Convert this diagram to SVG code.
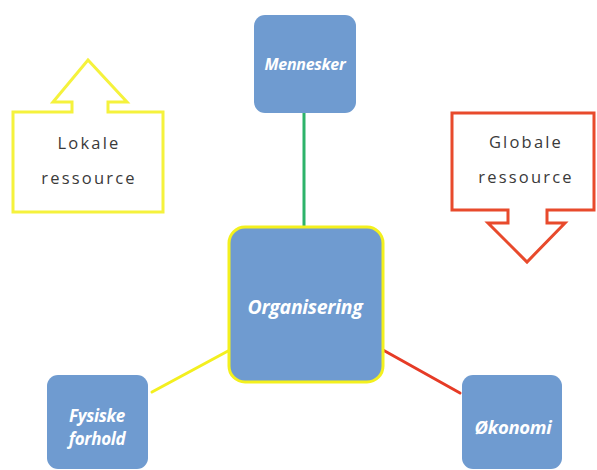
<svg xmlns="http://www.w3.org/2000/svg" width="597" height="470" viewBox="0 0 597 470">
<style>
.box{fill:#6f9bd0;}
.lbl{font-family:"Open Sans","DejaVu Sans",sans-serif;font-weight:bold;font-style:italic;fill:#ffffff;text-anchor:middle;letter-spacing:-0.3px;}
.res{font-family:"Open Sans","DejaVu Sans",sans-serif;font-size:16.5px;fill:#3a3a3a;text-anchor:middle;letter-spacing:2.2px;}
</style>
<rect width="597" height="470" fill="#ffffff"/>
<g id="connectors" fill="none" stroke-width="3" stroke-linecap="round">
<line x1="304" y1="112" x2="304" y2="228" stroke="#2db36a"/>
<line x1="152" y1="392" x2="228" y2="351" stroke="#f3ef1f"/>
<line x1="383" y1="350" x2="460" y2="393" stroke="#e63b26"/>
</g>
<g id="lokale">
<path d="M13,112 L72,112 L72,102 L53,102 L88,60 L127,102 L108,102 L108,112 L163,112 L163,212 L13,212 Z" fill="#ffffff" stroke="#f5f23c" stroke-width="3" stroke-linejoin="miter"/>
<text class="res" x="89" y="149">Lokale</text>
<text class="res" x="89" y="184">ressource</text>
</g>
<g id="globale">
<path d="M452,113 L594,113 L594,210 L547,210 L547,223 L565,223 L527,262 L488,223 L508,223 L508,210 L452,210 Z" fill="#ffffff" stroke="#e84a2c" stroke-width="3" stroke-linejoin="miter"/>
<text class="res" x="526" y="148">Globale</text>
<text class="res" x="526" y="183">ressource</text>
</g>
<g id="mennesker">
<rect class="box" x="254" y="15" width="102" height="98" rx="11"/>
<text class="lbl" x="305" y="70" font-size="16">Mennesker</text>
</g>
<g id="organisering">
<rect class="box" x="229" y="227" width="154" height="155" rx="16" stroke="#f3f01e" stroke-width="3"/>
<text class="lbl" x="305" y="314" font-size="19.5">Organisering</text>
</g>
<g id="fysiske">
<rect class="box" x="47" y="375" width="101" height="94" rx="11"/>
<text class="lbl" x="97" y="422" font-size="17">Fysiske</text>
<text class="lbl" x="97" y="445" font-size="17">forhold</text>
</g>
<g id="okonomi">
<rect class="box" x="462" y="375" width="100" height="94" rx="11"/>
<text class="lbl" x="513" y="434" font-size="18.5">Økonomi</text>
</g>
</svg>
